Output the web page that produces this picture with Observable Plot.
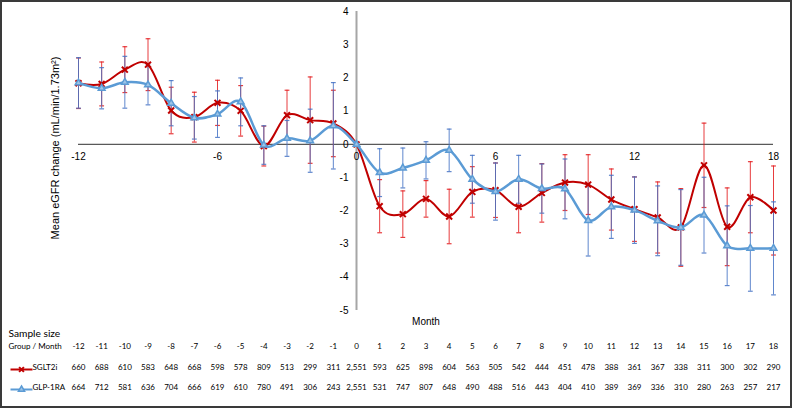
<!DOCTYPE html>
<html>
<head>
<meta charset="utf-8">
<script src="https://cdn.jsdelivr.net/npm/d3@7"></script>
<script src="https://cdn.jsdelivr.net/npm/@observablehq/plot@0.6"></script>
<style>
  html, body { margin: 0; padding: 0; background: #fff; }
  #wrap { position: relative; width: 792px; height: 408px; overflow: hidden; }
  #border { position: absolute; left: 0; top: 0; width: 788px; height: 404px; border: 2px solid #3a3a3a; pointer-events: none; }
</style>
</head>
<body>
<div id="wrap"><div id="border"></div></div>
<script>
const months = [-12,-11,-10,-9,-8,-7,-6,-5,-4,-3,-2,-1,0,1,2,3,4,5,6,7,8,9,10,11,12,13,14,15,16,17,18];
const sglt2Mean = [1.84,1.82,2.25,2.40,1.02,0.82,1.25,1.01,-0.05,0.88,0.73,0.63,0,-1.86,-2.10,-1.64,-2.17,-1.43,-1.38,-1.88,-1.46,-1.15,-1.21,-1.66,-1.95,-2.20,-2.50,-0.63,-2.48,-1.59,-1.99];
const sglt2Err  = [0.76,0.66,0.69,0.78,0.70,0.75,0.68,0.76,0.60,0.75,1.30,1.00,0,0.80,0.70,0.55,0.82,0.76,0.82,0.78,0.88,0.84,0.90,0.92,0.97,1.07,1.17,1.27,1.17,1.07,1.34];
const glpMean   = [1.85,1.69,1.87,1.79,1.24,0.80,0.91,1.28,-0.02,0.18,0.11,0.56,0,-0.85,-0.71,-0.48,-0.18,-1.05,-1.42,-1.05,-1.33,-1.34,-2.29,-1.88,-1.98,-2.30,-2.50,-2.13,-3.05,-3.13,-3.13];
const glpErr    = [0.76,0.62,0.78,0.60,0.68,0.64,0.70,0.72,0.58,0.54,0.95,1.30,0,0.72,0.60,0.56,0.64,0.72,0.86,0.72,0.74,0.90,1.07,0.95,1.00,1.05,1.14,1.14,1.20,1.29,1.40];
const sglt2N = [660,688,610,583,648,668,598,578,809,513,299,311,2551,593,625,898,604,563,505,542,444,451,478,388,361,367,338,311,300,302,290];
const glpN   = [664,712,581,636,704,666,619,610,780,491,306,243,2551,531,747,807,648,490,488,516,443,404,410,389,369,336,310,280,263,257,217];
const xTicks = [-12,-6,0,6,12,18];
const yTicks = [4,3,2,1,0,-1,-2,-3,-4,-5];
const seriesNames = ["SGLT2i","GLP-1RA"];
const yTitle = "Mean eGFR change (mL/min/1.73m²)";
const xTitle = "Month";
const tableTitle = "Sample size";
const headerLabel = "Group / Month";

const RED = "#c00000", RED_BAR = "#e31a1c", BLUE = "#5b9bd5", BLUE_BAR = "#4472c4", BLUE_FILL = "#9dc3e6";

const sglt = months.map((m,i) => ({month:m, mean:sglt2Mean[i], err:sglt2Err[i], n:sglt2N[i]}));
const glp  = months.map((m,i) => ({month:m, mean:glpMean[i], err:glpErr[i], n:glpN[i]}));

const cap = { draw(ctx) { ctx.moveTo(-2.4, 0); ctx.lineTo(2.4, 0); } };
const lineSwatch = { draw(ctx) { ctx.moveTo(-11, 0); ctx.lineTo(11, 0); } };
const fmt = d3.format(",");
const TF = "Lato, 'Open Sans', sans-serif";
const TS = 8;

function errMarks(data, color) {
  const d = data.filter(r => r.err > 0);
  return [
    Plot.ruleX(d, {x:"month", y1: r => r.mean - r.err, y2: r => r.mean + r.err, stroke: color, strokeWidth: 1, strokeOpacity: 0.85}),
    Plot.dot(d, {x:"month", y: r => r.mean + r.err, symbol: cap, r: 3, fill: "none", stroke: color, strokeWidth: 1.2, strokeOpacity: 0.85}),
    Plot.dot(d, {x:"month", y: r => r.mean - r.err, symbol: cap, r: 3, fill: "none", stroke: color, strokeWidth: 1.2, strokeOpacity: 0.85})
  ];
}

const chart = Plot.plot({
  width: 792, height: 408,
  marginTop: 11, marginBottom: 98, marginLeft: 78, marginRight: 19,
  x: {domain: [-12, 18], axis: null},
  y: {domain: [-5, 4], axis: null},
  style: {fontFamily: "'Liberation Sans', Arial, sans-serif", fontSize: "10px", color: "#000", background: "transparent"},
  marks: [
    Plot.ruleX([0], {stroke: "#a6a6a6", strokeWidth: 2}),
    Plot.ruleY([0], {stroke: "#595959", strokeWidth: 1.3}),
    Plot.text(yTicks, {x: 0, y: d => d, text: d => String(d), textAnchor: "end", dx: -8, fontSize: 10}),
    Plot.text(xTicks, {x: d => d, y: 0, text: d => String(d), dy: 12, fontSize: 10}),
    Plot.text([yTitle], {frameAnchor: "left", textAnchor: "middle", rotate: -90, dx: -23, dy: -13, fontSize: 11}),
    Plot.text([xTitle], {frameAnchor: "bottom", dy: 14, fontSize: 10}),
    ...errMarks(sglt, RED_BAR),
    ...errMarks(glp, BLUE_BAR),
    Plot.line(sglt, {x: "month", y: "mean", stroke: RED, strokeWidth: 2, curve: "cardinal"}),
    Plot.dot(sglt, {x: "month", y: "mean", symbol: "times", r: 2.8, stroke: RED, strokeWidth: 2}),
    Plot.line(glp, {x: "month", y: "mean", stroke: BLUE, strokeWidth: 2.5, curve: "cardinal"}),
    Plot.dot(glp, {x: "month", y: "mean", symbol: "triangle", r: 2.5, stroke: BLUE, fill: BLUE_FILL, strokeWidth: 1.5}),
    // sample size table
    Plot.text([tableTitle], {frameAnchor: "bottom-left", textAnchor: "start", dx: -70, dy: 26, fontSize: 10.2, fontFamily: TF}),
    Plot.text([headerLabel], {frameAnchor: "bottom-left", textAnchor: "start", dx: -70, dy: 38, fontSize: TS, fontFamily: TF}),
    Plot.text(months, {x: d => d, text: d => String(d), frameAnchor: "bottom", dy: 38, fontSize: TS, fontFamily: TF}),
    Plot.text(sglt, {x: "month", text: d => fmt(d.n), frameAnchor: "bottom", dy: 59, fontSize: TS, fontFamily: TF}),
    Plot.text(glp, {x: "month", text: d => fmt(d.n), frameAnchor: "bottom", dy: 79, fontSize: TS, fontFamily: TF}),
    Plot.dot([seriesNames[0]], {frameAnchor: "bottom-left", dx: -57, dy: 59, symbol: lineSwatch, r: 3, fill: "none", stroke: RED, strokeWidth: 2}),
    Plot.dot([seriesNames[0]], {frameAnchor: "bottom-left", dx: -57, dy: 59, symbol: "times", r: 2.3, stroke: RED, strokeWidth: 2}),
    Plot.text([seriesNames[0]], {frameAnchor: "bottom-left", textAnchor: "start", dx: -46, dy: 59, fontSize: TS, fontFamily: TF}),
    Plot.dot([seriesNames[1]], {frameAnchor: "bottom-left", dx: -57, dy: 79, symbol: lineSwatch, r: 3, fill: "none", stroke: BLUE, strokeWidth: 2}),
    Plot.dot([seriesNames[1]], {frameAnchor: "bottom-left", dx: -57, dy: 79, symbol: "triangle", r: 2.3, stroke: BLUE, fill: BLUE_FILL, strokeWidth: 1.5}),
    Plot.text([seriesNames[1]], {frameAnchor: "bottom-left", textAnchor: "start", dx: -46, dy: 79, fontSize: TS, fontFamily: TF})
  ]
});
document.getElementById("wrap").insertBefore(chart, document.getElementById("border"));
</script>
</body>
</html>
